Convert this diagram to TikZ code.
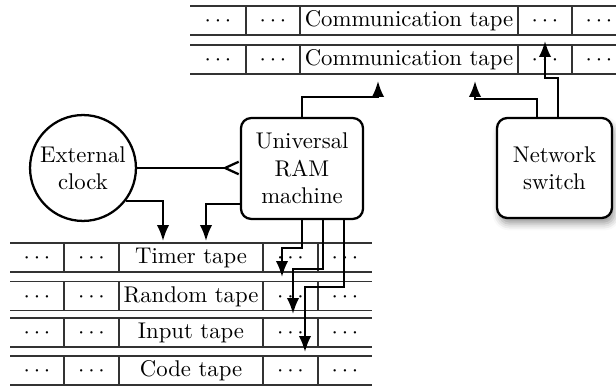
\documentclass[tikz,border=0pt]{standalone}
\usetikzlibrary{arrows.meta,shadows.blur}
\begin{document}
\begin{tikzpicture}[x=0.44pt,y=-0.44pt,
  cell/.style={minimum height=12.76pt, inner sep=0pt, outer sep=0pt, text height=1.5ex, text depth=0.25ex},
  tapeline/.style={draw=black!80, line width=0.5pt},
  conn/.style={line width=1pt, -{Latex[length=7pt,width=5.5pt]}},
  machine/.style={draw, line width=1pt, rounded corners=4.5pt, align=center, fill=white}]
\useasboundingbox (0,0) rectangle (616,388);
\clip (0,0) rectangle (616,388);

% bottom tapes
\foreach \n/\y/\t in {timer/257.5/Timer tape, random/296/Random tape, input/332.5/Input tape, code/370.5/Code tape}{
  \node[cell, minimum width=23.76pt] (\n1) at (37,\y) {$\cdots$};
  \node[cell, minimum width=24.2pt, anchor=west] (\n2) at (\n1.east) {$\cdots$};
  \node[cell, minimum width=63.36pt, anchor=west] (\n3) at (\n2.east) {\t};
  \node[cell, minimum width=24.2pt, anchor=west] (\n4) at (\n3.east) {$\cdots$};
  \node[cell, minimum width=23.76pt, anchor=west] (\n5) at (\n4.east) {$\cdots$};
  \draw[tapeline] (\n1.north west) -- (\n5.north east);
  \draw[tapeline] (\n1.south west) -- (\n5.south east);
  \foreach \k in {1,2,3,4}{
    \draw[tapeline] (\n\k.north east) -- (\n\k.south east);
  }
}

% top tapes
\foreach \n/\y in {commA/20.5, commB/59.5}{
  \node[cell, minimum width=24.64pt] (\n1) at (218,\y) {$\cdots$};
  \node[cell, minimum width=23.76pt, anchor=west] (\n2) at (\n1.east) {$\cdots$};
  \node[cell, minimum width=95.92pt, anchor=west] (\n3) at (\n2.east) {Communication tape};
  \node[cell, minimum width=23.76pt, anchor=west] (\n4) at (\n3.east) {$\cdots$};
  \node[cell, minimum width=23.76pt, anchor=west] (\n5) at (\n4.east) {$\cdots$};
  \draw[tapeline] (\n1.north west) -- (\n5.north east);
  \draw[tapeline] (\n1.south west) -- (\n5.south east);
  \foreach \k in {1,2,3,4}{
    \draw[tapeline] (\n\k.north east) -- (\n\k.south east);
  }
}

% main nodes
\node[circle, draw, line width=1pt, minimum size=46.6pt, inner sep=0pt, align=center] (clock) at (83,168) {External\\clock};
\node[machine, minimum width=53.7pt, minimum height=44.4pt] (ram) at (302,168.5) {Universal\\RAM\\machine};
\node[machine, minimum width=50.6pt, minimum height=44pt,
  blur shadow={shadow xshift=1pt, shadow yshift=-2.5pt, shadow blur radius=3pt}] (sw) at (554.5,168) {Network\\switch};

% arrow end points
\coordinate (clkT) at (163,241);
\coordinate (ramT) at (206,241);
\coordinate (comR) at (378,81);
\coordinate (swA) at (475,81);
\coordinate (swB) at (545,41);
\coordinate (t1) at (282,277);
\coordinate (t2) at (293,314);
\coordinate (t3) at (305,352);

% connectors
\draw[line width=1pt, -{Straight Barb[reversed,length=6pt,width=5.5pt]}] (clock.east) -- (clock.east -| ram.west);
\draw[conn] (clock.-38) -| (clkT);
\draw[conn] ([yshift=7pt]ram.south west) -| (ramT);
\draw[conn] (ram.north) |- ([yshift=-7pt]comR) -- (comR);
\draw[conn] ([xshift=-7.7pt]sw.north) |- ([yshift=-8pt]swA) -- (swA);
\draw[conn] ([xshift=1.5pt]sw.north) |- ([yshift=-16.3pt]swB) -- (swB);
\draw[conn] (ram.south) |- ([yshift=12.8pt]t1) -- (t1);
\draw[conn] ([xshift=9.2pt]ram.south) |- ([yshift=19.8pt]t2) -- (t2);
\draw[conn] ([xshift=18.5pt]ram.south) |- ([yshift=28.6pt]t3) -- (t3);
\end{tikzpicture}
\end{document}
